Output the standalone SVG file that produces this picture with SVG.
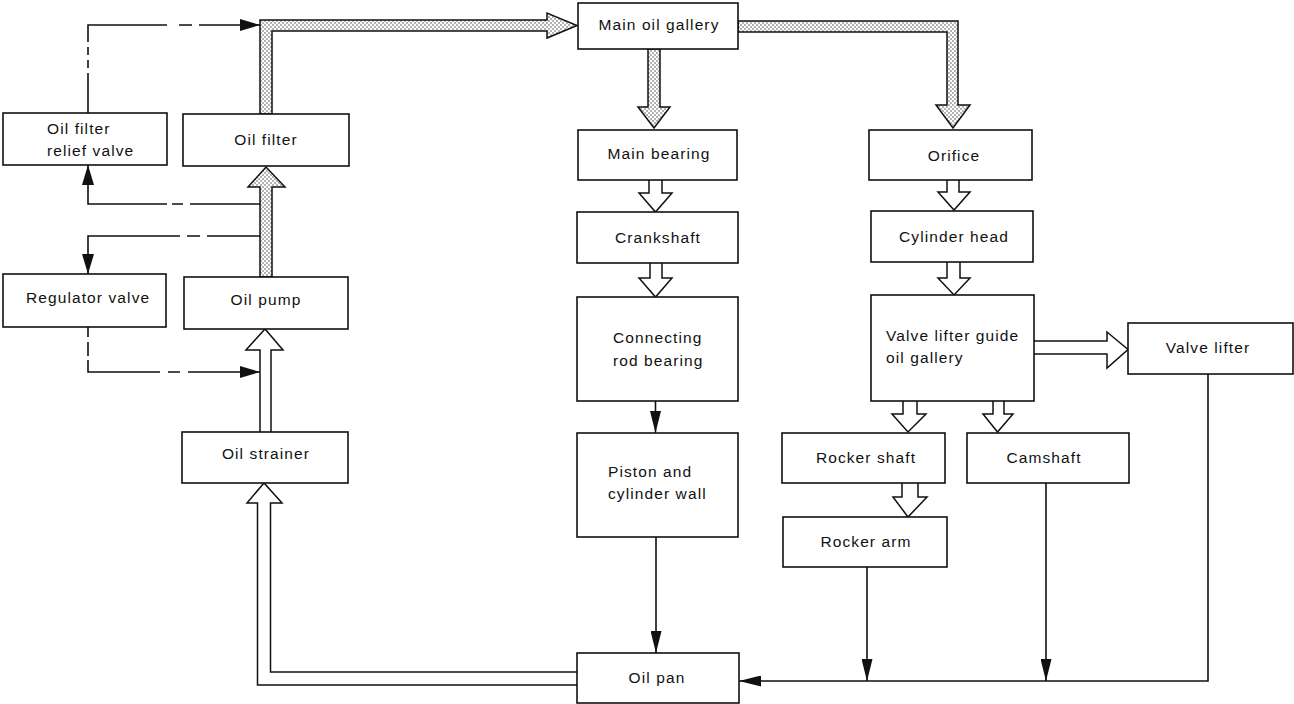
<svg xmlns="http://www.w3.org/2000/svg" width="1294" height="704" viewBox="0 0 1294 704">
<style>
  .box { fill: #fff; stroke: #111; stroke-width: 1.6; }
  .t { font-family: "Liberation Sans", Arial, sans-serif; font-size: 15.5px; letter-spacing: 1.1px; fill: #111; }
  .c { text-anchor: middle; }
  .pipe { fill: url(#dots); stroke: #111; stroke-width: 1.5; stroke-linejoin: miter; }
  .hollow { fill: #fff; stroke: #111; stroke-width: 1.5; stroke-linejoin: miter; }
  .line { fill: none; stroke: #111; stroke-width: 1.6; }
</style>
<defs>
  <pattern id="dots" width="4" height="4" patternUnits="userSpaceOnUse">
    <rect width="4" height="4" fill="#fff"/>
    <circle cx="1" cy="1" r="0.75" fill="#444"/>
    <circle cx="3" cy="3" r="0.75" fill="#444"/>
  </pattern>
  <marker id="ah" markerUnits="userSpaceOnUse" markerWidth="22" markerHeight="11" refX="22" refY="5.5" orient="auto">
    <path d="M0,0 L22,5.5 L0,11 z" fill="#111"/>
  </marker>
  <marker id="ahs" markerUnits="userSpaceOnUse" markerWidth="20" markerHeight="12" refX="20" refY="6" orient="auto">
    <path d="M0,0 L20,6 L0,12 z" fill="#111"/>
  </marker>
</defs>
<rect width="1294" height="704" fill="#fff"/>

<g id="connectors">
  <!-- stippled main flow -->
  <path class="pipe" d="M260,277 V187 H248 L266,167 L285,187 H272 V277 Z"/>
  <path class="pipe" d="M260,114 V20 H547 V13 L577,25.5 L547,38 V31 H272 V114 Z"/>
  <path class="pipe" d="M738,21 H958 V105 H970 L953,128 L936,105 H947 V32 H738 Z"/>
  <path class="pipe" d="M648,49 V107 H638 L654,128 L670,107 H660 V49 Z"/>

  <!-- hollow arrows -->
  <path class="hollow" d="M260,432 V350 H246 L265,329 L283,350 H271 V432"/>
  <path class="hollow" d="M577,672 H270.5 V503 H282 L264,483 L247,503 H257.5 V685 H577"/>
  <path class="hollow" d="M649,180 V193 H639 L655.5,212 L672,193 H662 V180"/>
  <path class="hollow" d="M650,263 V278 H639 L655.5,297 L672,278 H662 V263"/>
  <path class="hollow" d="M947,180 V192 H938 L954,210 L970,192 H959 V180"/>
  <path class="hollow" d="M947,262 V278 H938 L954,295 L970,278 H960 V262"/>
  <path class="hollow" d="M903,401 V414 H892 L908,432 L926,414 H917 V401"/>
  <path class="hollow" d="M993,401 V414 H983 L997.5,432 L1013,414 H1004 V401"/>
  <path class="hollow" d="M902,483 V497 H893 L908,517 L927,497 H918 V483"/>
  <path class="hollow" d="M1034,341 H1107 V332 L1128,349.5 L1107,368 V354 H1034"/>

  <!-- dash-dot control lines -->
  <path class="line" d="M88,113 V25 H260" stroke-dasharray="40 5 8 5 8 5 96 12 13 7 300" marker-end="url(#ahs)"/>
  <path class="line" d="M260,204 H88 V165" stroke-dasharray="70 7 11 5 300" marker-end="url(#ahs)"/>
  <path class="line" d="M260,236 H88 V274" stroke-dasharray="53 7 13 7 300" marker-end="url(#ahs)"/>
  <path class="line" d="M88,327 V372 H260" stroke-dasharray="10 5 14 4 84 8 12 8 300" marker-end="url(#ahs)"/>

  <!-- solid return lines -->
  <path class="line" d="M655.5,401 V433" marker-end="url(#ah)"/>
  <path class="line" d="M656,537 V653" marker-end="url(#ah)"/>
  <path class="line" d="M867,567 V681" marker-end="url(#ah)"/>
  <path class="line" d="M1046,483 V681" marker-end="url(#ah)"/>
  <path class="line" d="M1208,374 V681 H739" marker-end="url(#ah)"/>
</g>

<g id="relief-valve">
  <rect class="box" x="3" y="113" width="164" height="52"/>
  <text class="t" x="47" y="134">Oil filter</text>
  <text class="t" x="47" y="156">relief valve</text>
</g>
<g id="oil-filter">
  <rect class="box" x="183" y="114" width="166" height="52"/>
  <text class="t c" x="266" y="145">Oil filter</text>
</g>
<g id="regulator-valve">
  <rect class="box" x="3" y="274" width="163" height="53"/>
  <text class="t" x="26" y="303">Regulator valve</text>
</g>
<g id="oil-pump">
  <rect class="box" x="184" y="277" width="164" height="52"/>
  <text class="t c" x="266" y="305">Oil pump</text>
</g>
<g id="oil-strainer">
  <rect class="box" x="182" y="432" width="166" height="51"/>
  <text class="t c" x="266" y="459">Oil strainer</text>
</g>
<g id="main-oil-gallery">
  <rect class="box" x="578" y="3" width="160" height="46"/>
  <text class="t c" x="659" y="29.5">Main oil gallery</text>
</g>
<g id="main-bearing">
  <rect class="box" x="578" y="130" width="159" height="50"/>
  <text class="t c" x="659" y="159">Main bearing</text>
</g>
<g id="crankshaft">
  <rect class="box" x="577" y="212" width="161" height="51"/>
  <text class="t c" x="658" y="243">Crankshaft</text>
</g>
<g id="connecting-rod-bearing">
  <rect class="box" x="577" y="297" width="161" height="104"/>
  <text class="t" x="613" y="343">Connecting</text>
  <text class="t" x="613" y="366">rod bearing</text>
</g>
<g id="piston">
  <rect class="box" x="577" y="433" width="161" height="104"/>
  <text class="t" x="608" y="477">Piston and</text>
  <text class="t" x="608" y="499">cylinder wall</text>
</g>
<g id="oil-pan">
  <rect class="box" x="577" y="653" width="162" height="50"/>
  <text class="t c" x="657" y="683">Oil pan</text>
</g>
<g id="orifice">
  <rect class="box" x="869" y="130" width="163" height="50"/>
  <text class="t c" x="954" y="161">Orifice</text>
</g>
<g id="cylinder-head">
  <rect class="box" x="871" y="211" width="162" height="51"/>
  <text class="t c" x="954" y="242">Cylinder head</text>
</g>
<g id="valve-lifter-guide">
  <rect class="box" x="871" y="295" width="163" height="106"/>
  <text class="t" x="886" y="341">Valve lifter guide</text>
  <text class="t" x="886" y="363">oil gallery</text>
</g>
<g id="valve-lifter">
  <rect class="box" x="1128" y="323" width="165" height="51"/>
  <text class="t c" x="1208" y="353">Valve lifter</text>
</g>
<g id="rocker-shaft">
  <rect class="box" x="782" y="433" width="163" height="50"/>
  <text class="t c" x="866" y="463">Rocker shaft</text>
</g>
<g id="camshaft">
  <rect class="box" x="967" y="433" width="162" height="50"/>
  <text class="t c" x="1044" y="463">Camshaft</text>
</g>
<g id="rocker-arm">
  <rect class="box" x="783" y="517" width="164" height="50"/>
  <text class="t c" x="866" y="547">Rocker arm</text>
</g>
</svg>
